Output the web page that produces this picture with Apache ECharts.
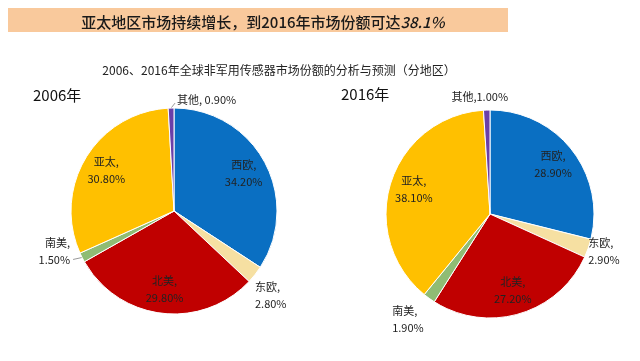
<!DOCTYPE html>
<html><head><meta charset="utf-8">
<script src="https://cdn.jsdelivr.net/npm/echarts@6/dist/echarts.min.js"></script>
<style>html,body{margin:0;padding:0;background:#fff}#c{width:640px;height:361px}</style>
</head><body><div id="c"></div>
<script>
const regions = ['西欧', '东欧', '北美', '南美', '亚太', '其他'];
const values2006 = [34.2, 2.8, 29.8, 1.5, 30.8, 0.9];
const values2016 = [28.9, 2.9, 27.2, 1.9, 38.1, 1.0];
const years = ['2006年', '2016年'];
const colors = ['#0A6FC2', '#F6E0A2', '#C00000', '#8FBC74', '#FFC000', '#6A3FA8'];
const insideSet = ['西欧', '北美', '亚太'];
const FONT = '"Noto Sans CJK SC", "Liberation Sans", sans-serif';

const chart = echarts.init(document.getElementById('c'), null, {renderer: 'canvas'});

function fmtIn(p) { return p.name + ',\n' + p.value.toFixed(2) + '%'; }

// label placement offsets relative to the slice edge point (style only)
const layout2006 = {
  '其他': {dx: 6, dy: -8, align: 'left', line: [4, -5]},
  '南美': {dx: -12, dy: -6, align: 'right', line: [-9, 2]},
  '东欧': {dx: 0, dy: 21, align: 'left'}
};
const layout2016 = {
  '其他': {dx: -7, dy: -13, align: 'center'},
  '东欧': {dx: 0, dy: 3, align: 'left'},
  '南美': {dx: -37, dy: 21, align: 'left'}
};

function mainSeries(vals, center, r, lay, sep) {
  return {
    type: 'pie', center: center, radius: [0, r], startAngle: 90, clockwise: true,
    animation: false,
    itemStyle: {borderColor: '#fff', borderWidth: 1},
    labelLine: {length: 6, length2: 6, lineStyle: {color: '#999', width: 1}},
    labelLayout: function (params) {
      const name = regions[params.dataIndex];
      const s = lay[name];
      const pts = params.labelLinePoints;
      if (!s || !pts) return {};
      const e = pts[0];
      const out = {x: e[0] + s.dx, y: e[1] + s.dy, align: s.align, verticalAlign: 'middle'};
      out.labelLinePoints = s.line ? [e, [e[0] + s.line[0], e[1] + s.line[1]], [e[0] + s.line[0], e[1] + s.line[1]]] : [e, e, e];
      return out;
    },
    data: regions.map((n, i) => ({
      name: n, value: vals[i],
      itemStyle: {color: colors[i]},
      label: insideSet.includes(n) ? {show: false} : {
        show: true, position: 'outside', fontSize: 11, color: '#222', fontFamily: FONT, lineHeight: 17,
        overflow: 'none', width: 80,
        formatter: p => (p.name === '其他' ? p.name + ',' + sep + p.value.toFixed(2) + '%' : p.name + ',\n' + p.value.toFixed(2) + '%')
      },
      labelLine: {show: !insideSet.includes(n) && !!(lay[n] && lay[n].line)}
    }))
  };
}
function labelSeries(vals, center, r) {
  return {
    type: 'pie', center: center, radius: [r * 0.48, r], startAngle: 90, clockwise: true,
    animation: false, silent: true,
    itemStyle: {color: 'rgba(0,0,0,0)', borderWidth: 0},
    labelLine: {show: false},
    data: regions.map((n, i) => ({
      name: n, value: vals[i],
      label: insideSet.includes(n) ? {show: true, position: 'inside', formatter: fmtIn, fontSize: 11, color: '#222', fontFamily: FONT, lineHeight: 17} : {show: false}
    }))
  };
}

chart.setOption({
  backgroundColor: '#fff',
  graphic: [{type: 'rect', shape: {x: 8, y: 8, width: 500, height: 24}, style: {fill: '#F9C99C'}, silent: true}],
  title: [
    {text: '{a|亚太地区市场持续增长，到2016年市场份额可达}{b|38.1%}', left: 258, top: 10, textAlign: 'center',
     textStyle: {rich: {a: {fontSize: 15, fontWeight: 500, color: '#1a1a1a', fontFamily: FONT}, b: {fontSize: 15, fontWeight: 500, color: '#1a1a1a', fontStyle: 'italic', fontFamily: FONT}}}},
    {text: '2006、2016年全球非军用传感器市场份额的分析与预测（分地区）', left: 274, top: 59, textAlign: 'center',
     textStyle: {fontSize: 12, fontWeight: 'normal', color: '#222', fontFamily: FONT}},
    {text: years[0], left: 28, top: 83, textStyle: {fontSize: 15, fontWeight: 'normal', color: '#111', fontFamily: FONT}},
    {text: years[1], left: 336, top: 82, textStyle: {fontSize: 15, fontWeight: 'normal', color: '#111', fontFamily: FONT}}
  ],
  series: [
    mainSeries(values2006, [174, 211], 103, layout2006, ' '),
    labelSeries(values2006, [174, 211], 103),
    mainSeries(values2016, [490, 214], 104, layout2016, ''),
    labelSeries(values2016, [490, 214], 104)
  ]
});
</script></body></html>
